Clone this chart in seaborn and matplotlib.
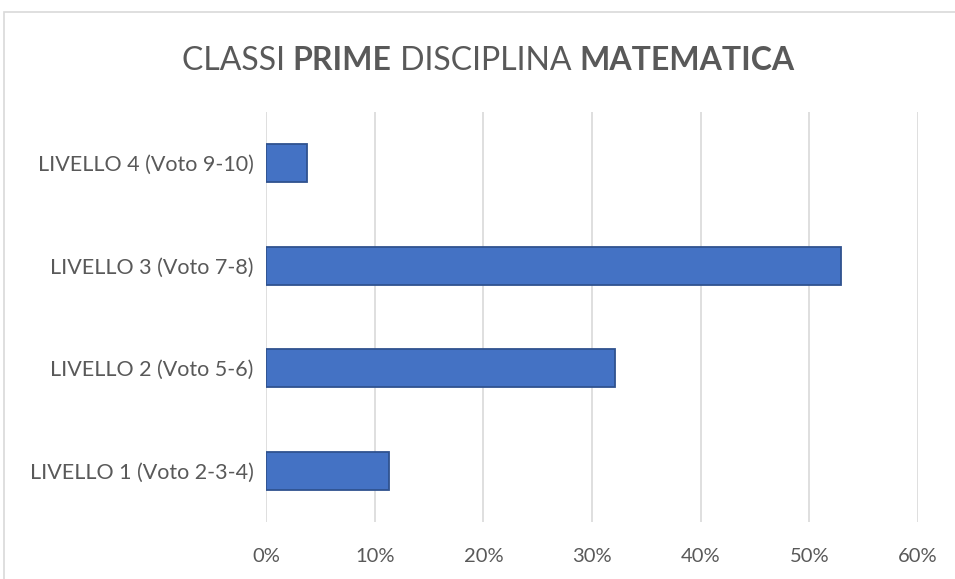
import matplotlib
matplotlib.use("Agg")
import matplotlib.pyplot as plt
from matplotlib.patches import Rectangle
from matplotlib.ticker import FuncFormatter
import pandas as pd
import seaborn as sns

# data
livelli = ["LIVELLO 4 (Voto 9-10)", "LIVELLO 3 (Voto 7-8)",
           "LIVELLO 2 (Voto 5-6)", "LIVELLO 1 (Voto 2-3-4)"]
percentuali = [0.038, 0.529, 0.321, 0.113]
x_ticks = [0, 0.1, 0.2, 0.3, 0.4, 0.5, 0.6]

title_parts = [("CLASSI ", "normal"), ("PRIME", "bold"),
               (" DISCIPLINA ", "normal"), ("MATEMATICA", "bold")]

sns.set_style("white")
plt.rcParams["font.family"] = ["Lato", "DejaVu Sans"]

text_col = "#595959"
grid_col = "#D9D9D9"

df = pd.DataFrame({"livello": livelli, "pct": percentuali})

W, H = 955, 579
fig = plt.figure(figsize=(W / 100, H / 100), dpi=100)
ax = fig.add_axes([266 / W, 1 - 522 / H, (918 - 266) / W, (522 - 112) / H])

sns.barplot(data=df, x="pct", y="livello", order=livelli, orient="h",
            color="#4472C4", saturation=1, width=0.37,
            edgecolor="#2F528F", linewidth=1.3, ax=ax)

ax.set_xlim(0, 0.6)
ax.set_xticks(x_ticks)
ax.xaxis.set_major_formatter(FuncFormatter(lambda v, _: f"{v * 100:.0f}%"))
ax.grid(axis="x", color=grid_col, linewidth=1.2)
ax.set_axisbelow(True)
for s in ax.spines.values():
    s.set_visible(False)
ax.set_xlabel("")
ax.set_ylabel("")
ax.tick_params(axis="x", length=0, pad=19, labelsize=14.5, labelcolor=text_col)
ax.tick_params(axis="y", length=0, pad=9, labelsize=15.5, labelcolor=text_col)

# chart border
fig.patches.append(Rectangle((4 / W, -0.01), 1.0, 1 - 12 / H + 0.01,
                             transform=fig.transFigure, fill=False,
                             edgecolor=grid_col, linewidth=1.2))

# title with mixed bold words, laid out piece by piece
fig.canvas.draw()
renderer = fig.canvas.get_renderer()
pieces = []
for txt, wt in title_parts:
    t = fig.text(0, 1 - 61 / H, txt, fontsize=23, fontweight=wt,
                 color=text_col, va="center", ha="left")
    pieces.append(t)
widths = [p.get_window_extent(renderer).width for p in pieces]
x0 = 488 - sum(widths) / 2
for p, w in zip(pieces, widths):
    p.set_x(x0 / W)
    x0 += w

fig.savefig("out.png", dpi=100)
